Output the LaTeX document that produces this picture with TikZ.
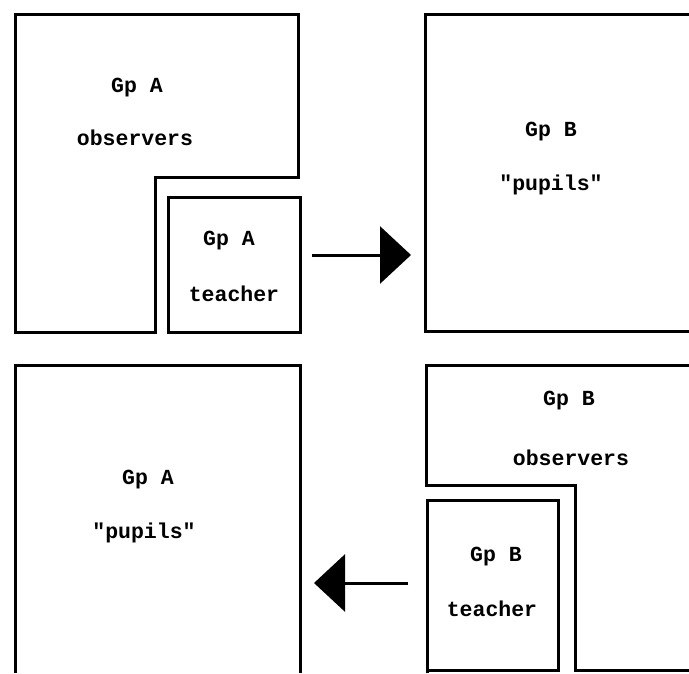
\documentclass[tikz,border=0pt]{standalone}
\usepackage{fontspec}
\setmonofont{Liberation Mono}
\usetikzlibrary{arrows.meta}
\tikzset{
  wall/.style={line width=3pt, line join=miter},
  lbl/.style={font=\ttfamily\bfseries\fontsize{21.5}{25}\selectfont, inner sep=0pt, anchor=center},
  flow/.style={line width=3pt, -{Triangle[length=31pt,width=57pt]}}
}
\begin{document}
\begin{tikzpicture}[x=1pt,y=-1pt]
\useasboundingbox (0,0) rectangle (689,673);
% top-left: Gp A observers (L shape)
\draw[wall] (155,332) -- (15,332) -- (15,14) -- (298,14) -- (298,177) -- (155,177) -- cycle;
% top-left teacher box
\draw[wall] (168,197) rectangle (300,332);
% top-right: Gp B pupils
\draw[wall] (689,14) -- (425,14) -- (425,331) -- (689,331);
% bottom-left: Gp A pupils
\draw[wall] (15,673) -- (15,365) -- (300,365) -- (300,673);
% bottom-right: Gp B observers (L shape)
\draw[wall] (689,365) -- (426,365) -- (426,485) -- (575,485) -- (575,670) -- (689,670);
% bottom-right teacher box
\draw[wall] (427,673) -- (427,500) -- (558,500) -- (558,670) -- (427,670);

% labels
\node[lbl] (ao1) at (137,88) {Gp A};
\node[lbl] (ao2) at (135,138) {observers};
\node[lbl] (at1) at (229,241) {Gp A};
\node[lbl] (at2) at (234,294) {teacher};
\node[lbl] (bp1) at (551,132) {Gp B};
\node[lbl] (bp2) at (551,185) {"pupils"};
\node[lbl] (ap1) at (148,480) {Gp A};
\node[lbl] (ap2) at (144,533) {"pupils"};
\node[lbl] (bo1) at (569,401) {Gp B};
\node[lbl] (bo2) at (571,458) {observers};
\node[lbl] (bt1) at (496,557) {Gp B};
\node[lbl] (bt2) at (492,609) {teacher};

% arrows
\coordinate (r1) at (312,255);
\coordinate (r2) at (411,255);
\draw[flow] (r1) -- (r2);
\coordinate (l1) at (408,583);
\coordinate (l2) at (314,583);
\draw[flow] (l1) -- (l2);
\end{tikzpicture}
\end{document}
